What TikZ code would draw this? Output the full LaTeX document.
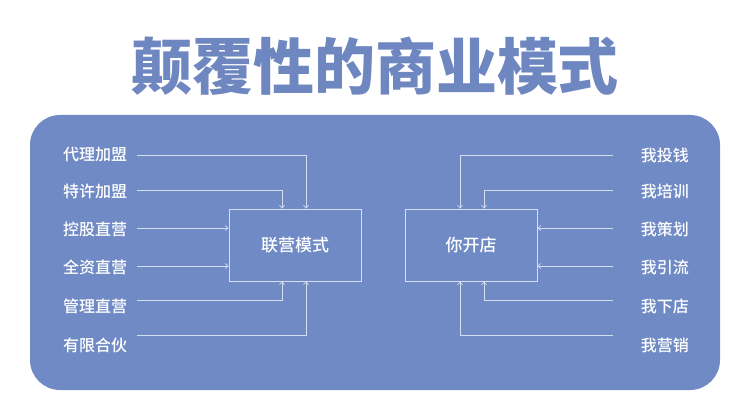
\documentclass[tikz,border=0pt]{standalone}
\usepackage{fontspec}
\newfontfamily\cjk{Noto Sans CJK SC Medium}
\newfontfamily\cjkb{Noto Sans CJK SC Black}
\usetikzlibrary{arrows.meta}
\definecolor{panel}{HTML}{6F8AC4}
\definecolor{ttl}{HTML}{6E87C0}
\definecolor{ln}{HTML}{D5DDF0}
\begin{document}
\begin{tikzpicture}[x=1pt,y=-1pt,
  lbl/.style={font=\cjk\fontsize{16}{16}\selectfont,text=white,inner sep=0pt},
  hub/.style={draw=ln,line width=0.6pt,minimum width=132pt,minimum height=72pt,font=\cjk\fontsize{17}{17}\selectfont,text=white},
  con/.style={draw=ln,line width=0.7pt,-{Straight Barb[length=3pt,width=5pt]}}]
\useasboundingbox (0,0) rectangle (750,406);
\fill[white] (0,0) rectangle (750,406);
\fill[panel,rounded corners=30pt] (30,115) rectangle (720,390);
\node[font=\cjkb\fontsize{61}{61}\selectfont,text=ttl] (t) at (375,66) {颠覆性的商业模式};
\node[hub] (L) at (295,245) {联营模式};
\node[hub] (R) at (471,245) {你开店};
\foreach \n/\t/\y in {l1/代理加盟/155,l2/特许加盟/191,l3/控股直营/229,l4/全资直营/267,l5/管理直营/306,l6/有限合伙/345}
  \node[lbl,anchor=west] (\n) at (63,\y) {\t};
\foreach \n/\t/\y in {r1/我投钱/155,r2/我培训/191,r3/我策划/229,r4/我引流/267,r5/我下店/306,r6/我营销/345}
  \node[lbl,anchor=east] (\n) at (689,\y) {\t};
\coordinate (s1) at (137,155); \coordinate (s2) at (137,190); \coordinate (s3) at (137,228);
\coordinate (s4) at (137,266); \coordinate (s5) at (137,300); \coordinate (s6) at (137,335);
\coordinate (e1) at (613,155); \coordinate (e2) at (613,190); \coordinate (e3) at (613,228);
\coordinate (e4) at (613,266); \coordinate (e5) at (613,300); \coordinate (e6) at (613,335);
\draw[con] (s1) -- (s1-|306,0) -- (306,0|-L.north);
\draw[con] (s2) -- (s2-|282,0) -- (282,0|-L.north);
\draw[con] (s3) -- (s3-|L.west);
\draw[con] (s4) -- (s4-|L.west);
\draw[con] (s5) -- (s5-|282,0) -- (282,0|-L.south);
\draw[con] (s6) -- (s6-|306,0) -- (306,0|-L.south);
\draw[con] (e1) -- (e1-|460,0) -- (460,0|-R.north);
\draw[con] (e2) -- (e2-|484,0) -- (484,0|-R.north);
\draw[con] (e3) -- (e3-|R.east);
\draw[con] (e4) -- (e4-|R.east);
\draw[con] (e5) -- (e5-|484,0) -- (484,0|-R.south);
\draw[con] (e6) -- (e6-|460,0) -- (460,0|-R.south);
\end{tikzpicture}
\end{document}
